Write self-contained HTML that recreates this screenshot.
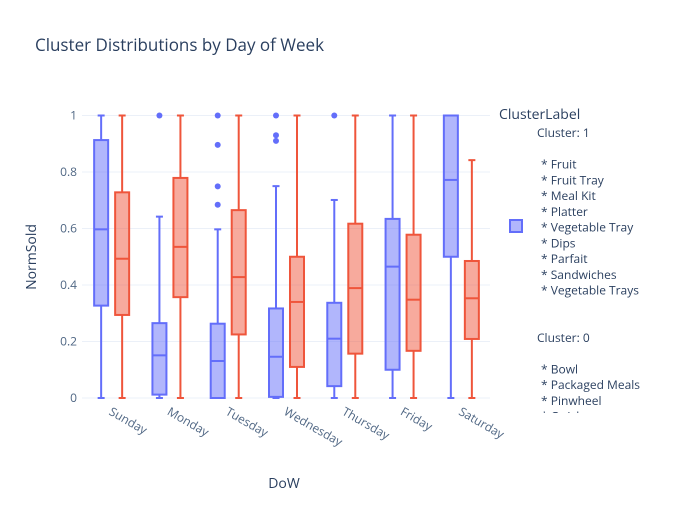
<!DOCTYPE html>
<html><head><meta charset="utf-8"><style>
body{margin:0;background:#fff;}
svg{font-family:"Open Sans","Liberation Sans",sans-serif;}
</style></head><body>
<svg id="chart" width="700" height="500" xmlns="http://www.w3.org/2000/svg">
<rect width="700" height="500" fill="#fff"/>
<text x="35" y="51" font-size="17" fill="#2a3f5f">Cluster Distributions by Day of Week</text>
<g id="grid"></g>
<g id="boxes"></g>
<g id="xt"></g>
<text x="0" y="0" transform="translate(36,257) rotate(-90)" text-anchor="middle" font-size="14" fill="#2a3f5f">NormSold</text>
<text x="284" y="488" text-anchor="middle" font-size="14" fill="#2a3f5f">DoW</text>
<defs><clipPath id="lc"><rect x="495" y="100" width="205" height="313"/></clipPath></defs>
<g id="legend" clip-path="url(#lc)"></g>
</svg>
<script>
const days=["Sunday","Monday","Tuesday","Wednesday","Thursday","Friday","Saturday"];
const blueQ1=[0.327,0.012,0,0.004,0.042,0.100,0.500];
const blueMed=[0.597,0.151,0.131,0.146,0.210,0.465,0.772];
const blueQ3=[0.913,0.265,0.263,0.317,0.337,0.634,1];
const blueLo=[0,0,0,0,0,0,0];
const blueHi=[1,0.642,0.597,0.750,0.701,1,1];
const blueOut=[[],[1],[1,0.896,0.749,0.684],[1,0.93,0.91],[1],[],[]];
const redQ1=[0.294,0.357,0.225,0.110,0.157,0.167,0.209];
const redMed=[0.493,0.535,0.428,0.340,0.389,0.348,0.353];
const redQ3=[0.728,0.779,0.665,0.500,0.617,0.578,0.485];
const redLo=[0,0,0,0,0,0,0];
const redHi=[1,1,1,1,1,1,0.842];
const redOut=[[],[],[],[],[],[],[]];
const yTicks=[0,0.2,0.4,0.6,0.8,1];
const yTickLabels=["0","0.2","0.4","0.6","0.8","1"];
const legendLines=["Cluster: 1","","* Fruit","* Fruit Tray","* Meal Kit","* Platter","* Vegetable Tray","* Dips","* Parfait","* Sandwiches","* Vegetable Trays","","","Cluster: 0","","* Bowl","* Packaged Meals","* Pinwheel","* Quick"];

const NS="http://www.w3.org/2000/svg";
const X0=82,X1=490,Y0=398,Y1=115.5;
const band=(X1-X0)/days.length;
const xc=i=>X0+band*(i+0.5);
const y=v=>Y0-(Y0-Y1)*v;
function mk(tag,attrs,parent){const e=document.createElementNS(NS,tag);for(const k in attrs)e.setAttribute(k,attrs[k]);parent.appendChild(e);return e;}
const grid=document.getElementById('grid');
yTicks.forEach((t,i)=>{
  const l=mk('line',{x1:X0,x2:X1,y1:y(t),y2:y(t),stroke:'#ebf0f8','stroke-width':1},grid);
  
  
  const tx=mk('text',{x:X0-5,y:y(t)+4,'text-anchor':'end','font-size':12,fill:'#506784'},grid);
  tx.textContent=yTickLabels[i];
  
  
});
const boxes=document.getElementById('boxes');
function drawBox(i,off,q1,med,q3,lo,hi,outs,stroke,fill,name){
  const g=mk('g',{},boxes);
  
  
  const cx=xc(i)+off,w=14;
  mk('line',{x1:cx,x2:cx,y1:y(hi),y2:y(q3),stroke:stroke,'stroke-width':2},g);
  mk('line',{x1:cx,x2:cx,y1:y(q1),y2:y(lo),stroke:stroke,'stroke-width':2},g);
  mk('line',{x1:cx-3.5,x2:cx+3.5,y1:y(hi),y2:y(hi),stroke:stroke,'stroke-width':2},g);
  mk('line',{x1:cx-3.5,x2:cx+3.5,y1:y(lo),y2:y(lo),stroke:stroke,'stroke-width':2},g);
  mk('rect',{x:cx-w/2,y:y(q3),width:w,height:Math.max(0,y(q1)-y(q3)),fill:fill,stroke:stroke,'stroke-width':2},g);
  mk('line',{x1:cx-w/2,x2:cx+w/2,y1:y(med),y2:y(med),stroke:stroke,'stroke-width':2},g);
  outs.forEach(o=>{const c=mk('circle',{cx:cx,cy:y(o),r:3,fill:stroke},g);
    
    });
}
days.forEach((d,i)=>{
  drawBox(i,-10,blueQ1[i],blueMed[i],blueQ3[i],blueLo[i],blueHi[i],blueOut[i],'#636efa','rgba(99,110,250,0.5)','box-cluster1-'+d.toLowerCase());
  drawBox(i,11,redQ1[i],redMed[i],redQ3[i],redLo[i],redHi[i],redOut[i],'#ef553b','rgba(239,85,59,0.5)','box-cluster0-'+d.toLowerCase());
  const t=mk('text',{transform:`translate(${xc(i)-3},${414}) rotate(30)`,'font-size':12,fill:'#506784'},document.getElementById('xt'));
  t.textContent=d;
  
  
});
const lg=document.getElementById('legend');
const lt=mk('text',{x:499,y:119,'font-size':14,fill:'#2a3f5f'},lg);
lt.textContent='ClusterLabel';


const sw=mk('rect',{x:510,y:220,width:12,height:12,fill:'rgba(99,110,250,0.5)',stroke:'#636efa','stroke-width':2},lg);


legendLines.forEach((s,i)=>{
  if(!s)return;
  const t=mk('text',{x:s.startsWith('*')?541:537,y:137+i*15.75,'font-size':12,fill:'#2a3f5f'},lg);
  t.textContent=s;
  
  
});
</script>
</body></html>
